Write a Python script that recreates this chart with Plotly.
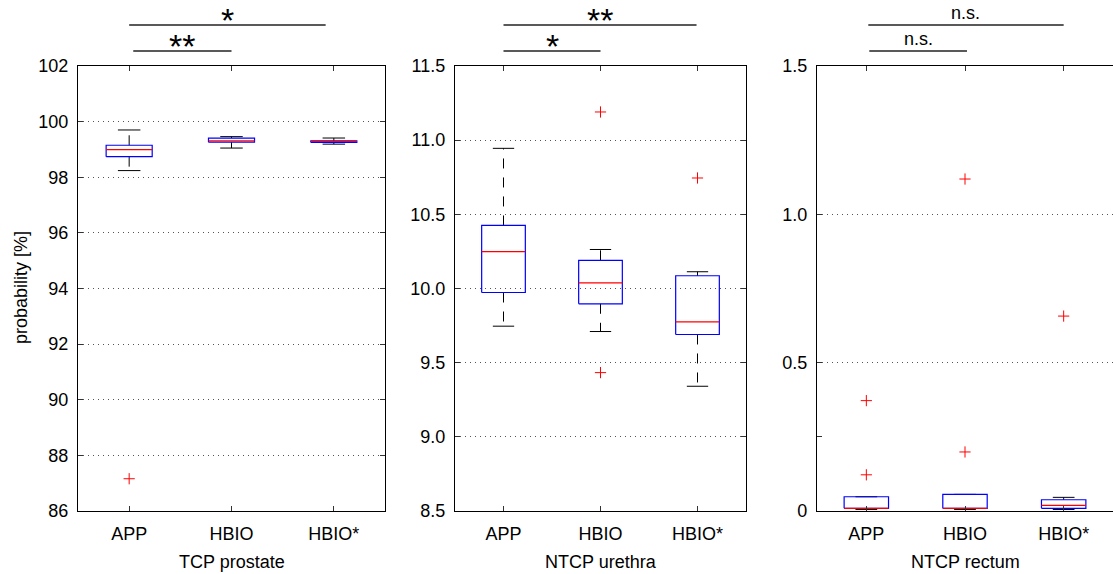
import plotly.graph_objects as go

categories = ["APP", "HBIO", "HBIO*"]
panel_titles = ["TCP prostate", "NTCP urethra", "NTCP rectum"]

# TCP prostate box statistics (%)
tcp_whisk_lo = [98.24, 99.05, 99.19]
tcp_q1 = [98.74, 99.26, 99.25]
tcp_med = [98.99, 99.31, 99.29]
tcp_q3 = [99.15, 99.41, 99.31]
tcp_whisk_hi = [99.70, 99.46, 99.41]
tcp_outliers = [[87.16], [], []]

# NTCP urethra box statistics (%)
ure_whisk_lo = [9.746, 9.71, 9.341]
ure_q1 = [9.973, 9.897, 9.69]
ure_med = [10.248, 10.038, 9.775]
ure_q3 = [10.425, 10.19, 10.086]
ure_whisk_hi = [10.945, 10.263, 10.113]
ure_outliers = [[], [11.19, 9.433], [10.745]]

# NTCP rectum box statistics (%)
rec_whisk_lo = [0.005, 0.005, 0.005]
rec_q1 = [0.009, 0.009, 0.009]
rec_med = [0.009, 0.009, 0.019]
rec_q3 = [0.048, 0.056, 0.038]
rec_whisk_hi = [0.048, 0.056, 0.046]
rec_outliers = [[0.372, 0.122], [1.119, 0.199], [0.657]]

# significance brackets per panel: (upper label, lower label)
sig_upper = ["*", "**", "n.s."]
sig_lower = ["**", "*", "n.s."]

# axis ticks
tcp_ticks = [86, 88, 90, 92, 94, 96, 98, 100, 102]
ure_ticks = [8.5, 9.0, 9.5, 10.0, 10.5, 11.0, 11.5]
ure_ticktext = ["8.5", "9.0", "9.5", "10.0", "10.5", "11.0", "11.5"]
rec_ticks = [0, 0.5, 1.0, 1.5]
rec_ticktext = ["0", "0.5", "1.0", "1.5"]
rec_minor = [0.25]

panels = [
    (tcp_whisk_lo, tcp_q1, tcp_med, tcp_q3, tcp_whisk_hi, tcp_outliers),
    (ure_whisk_lo, ure_q1, ure_med, ure_q3, ure_whisk_hi, ure_outliers),
    (rec_whisk_lo, rec_q1, rec_med, rec_q3, rec_whisk_hi, rec_outliers),
]

W, H = 1113, 574
FONT = "Liberation Sans, Arial, sans-serif"
BOX_HW = 0.225
CAP_HW = 0.11

fig = go.Figure()
axnames = ["", "2", "3"]
xpos = [i + 1 for i in range(len(categories))]

for p, (wlo, q1, med, q3, whi, outl) in enumerate(panels):
    xa = "x" + axnames[p]
    ya = "y" + axnames[p]
    for i, xc in enumerate(xpos):
        common = dict(xaxis=xa, yaxis=ya, showlegend=False, hoverinfo="skip", mode="lines")
        # whiskers
        fig.add_trace(go.Scatter(x=[xc, xc], y=[q3[i], whi[i]],
                                 line=dict(color="black", width=1, dash="10px,9px"), **common))
        fig.add_trace(go.Scatter(x=[xc, xc], y=[q1[i], wlo[i]],
                                 line=dict(color="black", width=1, dash="10px,9px"), **common))
        # caps
        fig.add_trace(go.Scatter(x=[xc - CAP_HW, xc + CAP_HW], y=[whi[i], whi[i]],
                                 line=dict(color="black", width=1), **common))
        fig.add_trace(go.Scatter(x=[xc - CAP_HW, xc + CAP_HW], y=[wlo[i], wlo[i]],
                                 line=dict(color="black", width=1), **common))
        # box
        fig.add_trace(go.Scatter(x=[xc - BOX_HW, xc + BOX_HW, xc + BOX_HW, xc - BOX_HW, xc - BOX_HW],
                                 y=[q1[i], q1[i], q3[i], q3[i], q1[i]],
                                 line=dict(color="#0000ff", width=1.2), **common))
        # median
        fig.add_trace(go.Scatter(x=[xc - BOX_HW, xc + BOX_HW], y=[med[i], med[i]],
                                 line=dict(color="#ff0000", width=1.2), **common))
        # outliers
        if outl[i]:
            fig.add_trace(go.Scatter(x=[xc] * len(outl[i]), y=outl[i], mode="markers",
                                     marker=dict(symbol="cross-thin", size=8,
                                                 line=dict(color="#ff0000", width=1)),
                                     xaxis=xa, yaxis=ya, showlegend=False, hoverinfo="skip"))

domains = [(78 / W, 385 / W), (455 / W, 746 / W), (817 / W, 1.0)]
yranges = [(86, 102), (8.5, 11.5), (0, 1.5)]

axis_font = dict(family=FONT, size=18, color="black")
layout = dict(
    width=W, height=H,
    margin=dict(l=0, r=0, t=66, b=63),
    paper_bgcolor="white", plot_bgcolor="white",
    font=dict(family=FONT, color="black"),
)

for p in range(3):
    xkey = "xaxis" + axnames[p]
    ykey = "yaxis" + axnames[p]
    layout[xkey] = dict(
        domain=list(domains[p]), range=[0.5, 3.5], anchor="y" + axnames[p],
        tickvals=xpos, ticktext=categories, ticks="inside", ticklen=5,
        tickcolor="#333", showline=True, linecolor="black", linewidth=1.3,
        mirror="ticks", showgrid=False, zeroline=False, tickfont=axis_font,
        ticklabelstandoff=6, fixedrange=True,
    )
    ydict = dict(
        domain=[0, 1], range=list(yranges[p]), anchor="x" + axnames[p],
        ticks="inside", ticklen=5, tickcolor="#333", showline=True,
        linecolor="black", linewidth=1.3, mirror="ticks",
        showgrid=True, gridcolor="#555", gridwidth=1, griddash="1px,4px",
        zeroline=False, tickfont=axis_font, ticklabelstandoff=5, fixedrange=True,
    )
    if p == 0:
        ydict.update(tickvals=tcp_ticks)
    elif p == 1:
        ydict.update(tickvals=ure_ticks, ticktext=ure_ticktext)
    else:
        ydict.update(tickvals=rec_ticks, ticktext=rec_ticktext, mirror=False,
                     minor=dict(tickvals=rec_minor, ticks="inside", ticklen=5,
                                tickcolor="#333", showgrid=False))
    layout[ykey] = ydict

fig.update_layout(**layout)

annotations = []
shapes = []
# y-axis title
annotations.append(dict(text="probability [%]", xref="paper", yref="paper",
                        x=21 / W, y=(H - 63 - 288) / (H - 66 - 63), textangle=-90,
                        showarrow=False, xanchor="center", yanchor="middle",
                        font=dict(family=FONT, size=18, color="black")))
plot_h = H - 66 - 63


def py(pix):
    return (H - 63 - pix) / plot_h


# bracket endpoints in category units
upper_span = [(1.0, 2.92), (1.0, 2.99), (1.02, 3.0)]
lower_span = [(1.04, 2.0), (1.0, 2.0), (1.03, 2.02)]

for p in range(3):
    xa = "x" + axnames[p]
    for span, ypix in ((upper_span[p], 25), (lower_span[p], 51)):
        shapes.append(dict(type="line", xref=xa, yref="paper",
                           x0=span[0], x1=span[1], y0=py(ypix), y1=py(ypix),
                           line=dict(color="#222", width=1.5)))
    for label, span, ypix in ((sig_upper[p], upper_span[p], 25), (sig_lower[p], lower_span[p], 51)):
        is_star = label.startswith("*")
        annotations.append(dict(
            text=label, xref=xa, yref="paper", x=(span[0] + span[1]) / 2,
            y=py(ypix + (16 if is_star else 0)), showarrow=False,
            xanchor="center", yanchor="bottom",
            font=dict(family=FONT, size=34 if is_star else 18, color="black")))
    # x-axis titles
    annotations.append(dict(text=panel_titles[p], xref=xa, yref="paper", x=2,
                            y=py(562), showarrow=False, xanchor="center",
                            yanchor="middle",
                            font=dict(family=FONT, size=18, color="black")))

fig.update_layout(annotations=annotations, shapes=shapes)
fig.write_html("out.html")
